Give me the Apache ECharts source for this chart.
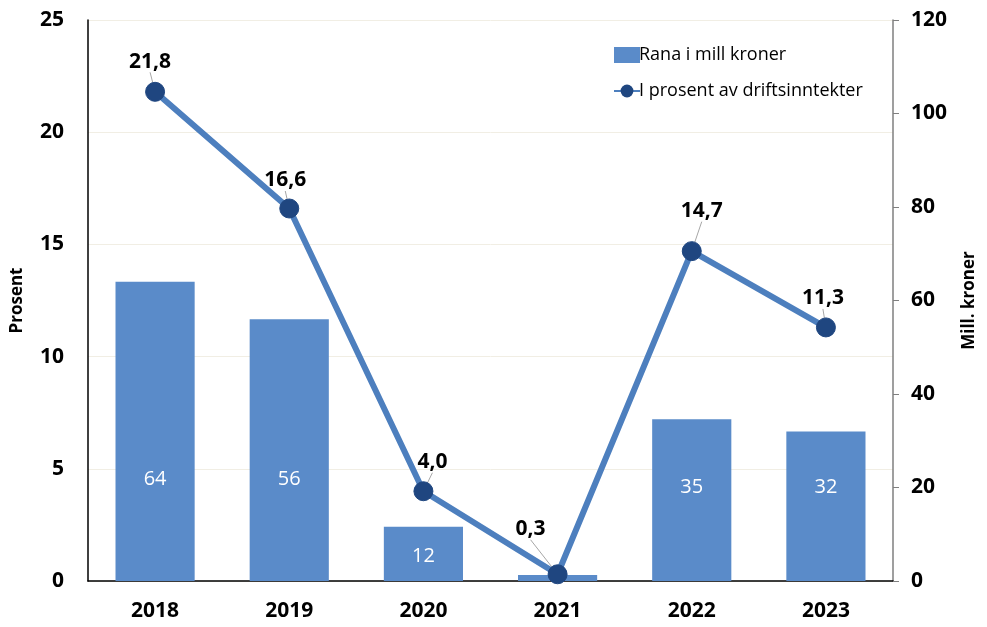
<!DOCTYPE html>
<html>
<head>
<meta charset="utf-8">
<script src="https://cdn.jsdelivr.net/npm/echarts@6/dist/echarts.min.js"></script>
<style>
  html, body { margin: 0; padding: 0; background: #fff; }
  #chartmain { width: 987px; height: 627px; }
</style>
</head>
<body>
<div id="chartmain"></div>
<script>
// data
var years = ['2018', '2019', '2020', '2021', '2022', '2023'];
var millKroner = [64, 56, 11.6, 1.3, 34.6, 32];
var prosent = [21.8, 16.6, 4.0, 0.3, 14.7, 11.3];
var barNames = ['64', '56', '12', '', '35', '32'];

// label placement (pixels)
var barLabelDist = [92, 92, 15, 0, 84, 84];
var lineLabelShift = [[-5, -30], [-4, -28], [9, -29], [-27, -45], [10, -40], [-3, -29]];

var fontFam = '"Open Sans", "Liberation Sans", sans-serif';

var barData = millKroner.map(function (v, i) {
    return {
        value: v,
        label: { show: barNames[i] !== '', distance: barLabelDist[i], formatter: barNames[i] }
    };
});

var myChart = echarts.init(document.getElementById('chartmain'));

var option = {
    animation: false,
    textStyle: { fontFamily: fontFam },
    grid: { left: 88, right: 94, top: 20, bottom: 46 },
    legend: {
        orient: 'vertical',
        left: 608,
        top: 41,
        itemGap: 18,
        itemWidth: 26,
        itemHeight: 16,
        textStyle: { fontSize: 18, color: '#000', fontFamily: fontFam, padding: [0, 0, 0, -6] },
        data: [
            { name: 'Rana i mill kroner', icon: 'rect', itemStyle: { color: '#5a8bc9' } },
            { name: 'I prosent av driftsinntekter' }
        ]
    },
    xAxis: {
        type: 'category',
        data: years,
        axisLine: { lineStyle: { color: '#000', width: 1.5 } },
        axisTick: { show: false },
        axisLabel: { fontSize: 21, fontWeight: 'bold', color: '#000', margin: 20 }
    },
    yAxis: [
        {
            type: 'value',
            name: 'Prosent',
            nameLocation: 'middle',
            nameGap: 62,
            nameTextStyle: { fontSize: 17, fontWeight: 'bold', color: '#000' },
            min: 0, max: 25, interval: 5,
            axisLine: { show: true, lineStyle: { color: '#000', width: 1.5 } },
            axisTick: { show: false },
            axisLabel: { fontSize: 21, fontWeight: 'bold', color: '#000', margin: 24 },
            splitLine: { lineStyle: { color: '#f1eee4', width: 1 } }
        },
        {
            type: 'value',
            name: 'Mill. kroner',
            nameLocation: 'middle',
            nameGap: 68,
            nameRotate: 90,
            nameTextStyle: { fontSize: 17, fontWeight: 'bold', color: '#000' },
            min: 0, max: 120, interval: 20,
            position: 'right',
            axisLine: { show: true, lineStyle: { color: '#7f7f7f', width: 1.5 } },
            axisTick: { show: true, inside: false, length: 6, lineStyle: { color: '#7f7f7f' } },
            axisLabel: { fontSize: 21, fontWeight: 'bold', color: '#000', margin: 18 },
            splitLine: { show: false }
        }
    ],
    series: [
        {
            name: 'Rana i mill kroner',
            type: 'bar',
            yAxisIndex: 1,
            barWidth: '59%',
            itemStyle: { color: '#5a8bc9' },
            label: {
                position: 'insideBottom',
                color: '#fff',
                fontSize: 20,
                fontFamily: fontFam
            },
            data: barData
        },
        {
            name: 'I prosent av driftsinntekter',
            type: 'line',
            yAxisIndex: 0,
            symbol: 'circle',
            symbolSize: 19,
            lineStyle: { color: '#4d7fbe', width: 6 },
            itemStyle: { color: '#1f4680', borderColor: '#1f4680' },
            label: {
                show: true,
                position: 'inside',
                fontSize: 21,
                fontWeight: 'bold',
                color: '#000',
                formatter: function (p) { return p.value.toFixed(1).replace('.', ','); }
            },
            labelLine: { show: true, lineStyle: { color: '#a6a6a6', width: 1 } },
            labelLayout: function (params) {
                var s = lineLabelShift[params.dataIndex];
                return { dx: s[0], dy: s[1] };
            },
            z: 5,
            data: prosent
        }
    ]
};

myChart.setOption(option);
window.addEventListener('resize', function () {
    myChart.resize();
});
</script>
</body>
</html>
